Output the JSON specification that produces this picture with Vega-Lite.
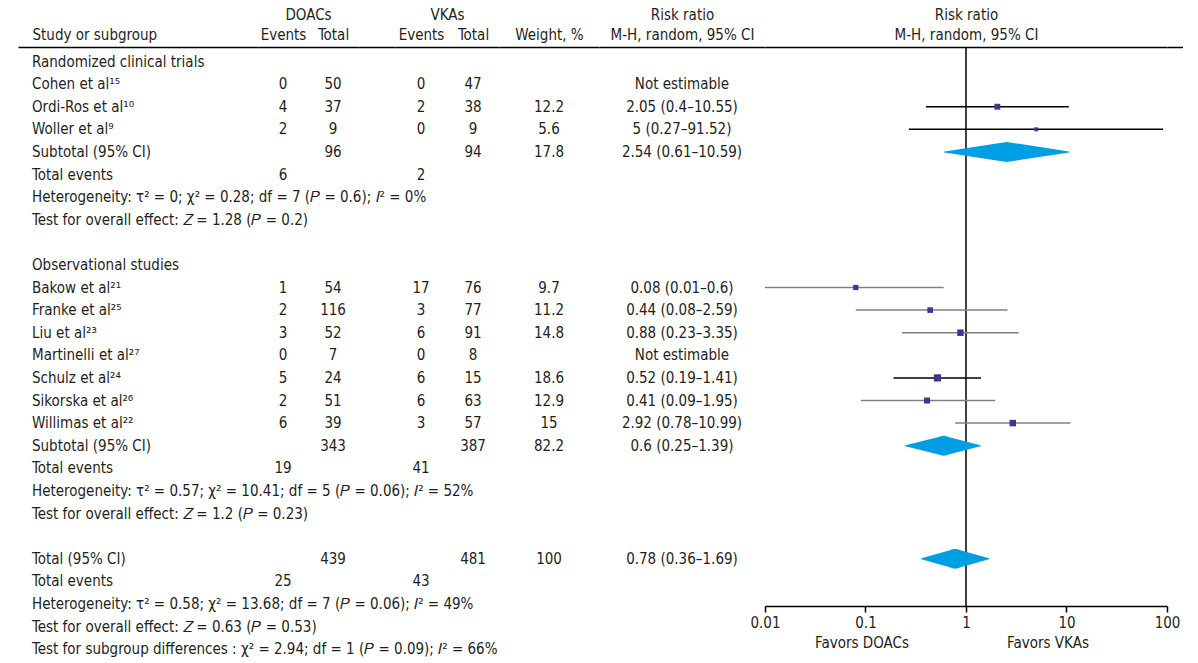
{
  "$schema": "https://vega.github.io/schema/vega-lite/v6.json",
  "padding": {"left": 18, "top": 7, "right": 0, "bottom": 0},
  "bounds": "flush",
  "spacing": 0,
  "config": {
    "font": "Liberation Sans Narrow, DejaVu Sans Condensed, Liberation Sans, sans-serif",
    "view": {"stroke": null},
    "text": {"fontSize": 15, "color": "#231f20"},
    "axis": {
      "domainColor": "#000000",
      "domainWidth": 1.5,
      "ticks": false,
      "grid": false,
      "labelAngle": 0,
      "labelFontSize": 15,
      "labelColor": "#231f20",
      "labelPadding": 5,
      "titleFontSize": 15,
      "titleFontWeight": "normal",
      "titleColor": "#231f20",
      "titlePadding": 5
    }
  },
  "datasets": {
    "rows": [
      {"r": 1, "label": "Randomized clinical trials", "kind": "group", "grp": "rct"},
      {"r": 2, "label": "Cohen et al¹⁵", "e1": 0, "t1": 50, "e2": 0, "t2": 47, "rr": "Not estimable", "kind": "study", "grp": "rct"},
      {"r": 3, "label": "Ordi-Ros et al¹⁰", "e1": 4, "t1": 37, "e2": 2, "t2": 38, "w": 12.2, "rr": "2.05 (0.4–10.55)", "est": 2.05, "lo": 0.4, "hi": 10.55, "kind": "study", "grp": "rct"},
      {"r": 4, "label": "Woller et al⁹", "e1": 2, "t1": 9, "e2": 0, "t2": 9, "w": 5.6, "rr": "5 (0.27–91.52)", "est": 5, "lo": 0.27, "hi": 91.52, "kind": "study", "grp": "rct"},
      {"r": 5, "label": "Subtotal (95% CI)", "t1": 96, "t2": 94, "w": 17.8, "rr": "2.54 (0.61–10.59)", "est": 2.54, "lo": 0.61, "hi": 10.59, "kind": "sub", "grp": "rct"},
      {"r": 6, "label": "Total events", "e1": 6, "e2": 2, "kind": "events", "grp": "rct"},
      {"r": 7, "label": "Heterogeneity: τ² = 0; χ² = 0.28; df = 7 (𝑃 = 0.6); 𝐼² = 0%", "kind": "note", "grp": "rct"},
      {"r": 8, "label": "Test for overall effect: 𝑍 = 1.28 (𝑃 = 0.2)", "kind": "note", "grp": "rct"},
      {"r": 10, "label": "Observational studies", "kind": "group", "grp": "obs"},
      {"r": 11, "label": "Bakow et al²¹", "e1": 1, "t1": 54, "e2": 17, "t2": 76, "w": 9.7, "rr": "0.08 (0.01–0.6)", "est": 0.08, "lo": 0.01, "hi": 0.6, "kind": "study", "grp": "obs"},
      {"r": 12, "label": "Franke et al²⁵", "e1": 2, "t1": 116, "e2": 3, "t2": 77, "w": 11.2, "rr": "0.44 (0.08–2.59)", "est": 0.44, "lo": 0.08, "hi": 2.59, "kind": "study", "grp": "obs"},
      {"r": 13, "label": "Liu et al²³", "e1": 3, "t1": 52, "e2": 6, "t2": 91, "w": 14.8, "rr": "0.88 (0.23–3.35)", "est": 0.88, "lo": 0.23, "hi": 3.35, "kind": "study", "grp": "obs"},
      {"r": 14, "label": "Martinelli et al²⁷", "e1": 0, "t1": 7, "e2": 0, "t2": 8, "rr": "Not estimable", "kind": "study", "grp": "obs"},
      {"r": 15, "label": "Schulz et al²⁴", "e1": 5, "t1": 24, "e2": 6, "t2": 15, "w": 18.6, "rr": "0.52 (0.19–1.41)", "est": 0.52, "lo": 0.19, "hi": 1.41, "kind": "study", "grp": "obs"},
      {"r": 16, "label": "Sikorska et al²⁶", "e1": 2, "t1": 51, "e2": 6, "t2": 63, "w": 12.9, "rr": "0.41 (0.09–1.95)", "est": 0.41, "lo": 0.09, "hi": 1.95, "kind": "study", "grp": "obs"},
      {"r": 17, "label": "Willimas et al²²", "e1": 6, "t1": 39, "e2": 3, "t2": 57, "w": 15, "rr": "2.92 (0.78–10.99)", "est": 2.92, "lo": 0.78, "hi": 10.99, "kind": "study", "grp": "obs"},
      {"r": 18, "label": "Subtotal (95% CI)", "t1": 343, "t2": 387, "w": 82.2, "rr": "0.6 (0.25–1.39)", "est": 0.6, "lo": 0.25, "hi": 1.39, "kind": "sub", "grp": "obs"},
      {"r": 19, "label": "Total events", "e1": 19, "e2": 41, "kind": "events", "grp": "obs"},
      {"r": 20, "label": "Heterogeneity: τ² = 0.57; χ² = 10.41; df = 5 (𝑃 = 0.06); 𝐼² = 52%", "kind": "note", "grp": "obs"},
      {"r": 21, "label": "Test for overall effect: 𝑍 = 1.2 (𝑃 = 0.23)", "kind": "note", "grp": "obs"},
      {"r": 23, "label": "Total (95% CI)", "t1": 439, "t2": 481, "w": 100, "rr": "0.78 (0.36–1.69)", "est": 0.78, "lo": 0.36, "hi": 1.69, "kind": "total", "grp": "all"},
      {"r": 24, "label": "Total events", "e1": 25, "e2": 43, "kind": "events", "grp": "all"},
      {"r": 25, "label": "Heterogeneity: τ² = 0.58; χ² = 13.68; df = 7 (𝑃 = 0.06); 𝐼² = 49%", "kind": "note", "grp": "all"},
      {"r": 26, "label": "Test for overall effect: 𝑍 = 0.63 (𝑃 = 0.53)", "kind": "note", "grp": "all"},
      {"r": 27, "label": "Test for subgroup differences : χ² = 2.94; df = 1 (𝑃 = 0.09); 𝐼² = 66%", "kind": "note", "grp": "all"}
    ]
  },
  "data": {"name": "rows"},
  "hconcat": [
    {
      "width": 240,
      "height": 616,
      "transform": [{"filter": "datum.label != null"}],
      "mark": {"type": "text", "align": "left", "dx": 14},
      "encoding": {
        "x": {
          "datum": "Study or subgroup",
          "type": "nominal",
          "scale": {"type": "point", "padding": 0, "align": 0},
          "axis": {"orient": "top", "title": null, "labelAlign": "left", "labelOffset": 14}
        },
        "y": {"field": "r", "type": "quantitative", "scale": {"domain": [0.358, 27.614], "reverse": true, "nice": false, "zero": false}, "axis": null},
        "text": {"field": "label", "type": "nominal"}
      }
    },
    {
      "width": 100,
      "height": 616,
      "transform": [{"fold": ["e1", "t1"], "as": ["col", "val"]}, {"filter": "datum.val != null"}],
      "mark": {"type": "text"},
      "encoding": {
        "x": {
          "field": "col",
          "type": "nominal",
          "scale": {"domain": ["e1", "t1"], "paddingInner": 0, "paddingOuter": 0},
          "axis": {"orient": "top", "title": "DOACs", "labelExpr": "datum.value == 'e1' ? 'Events' : 'Total'"}
        },
        "y": {"field": "r", "type": "quantitative", "scale": {"domain": [0.358, 27.614], "reverse": true, "nice": false, "zero": false}, "axis": null},
        "text": {"field": "val", "type": "nominal"}
      }
    },
    {
      "width": 37,
      "height": 616,
      "mark": {"type": "text", "text": ""},
      "encoding": {
        "x": {"datum": "gap", "type": "nominal", "axis": {"orient": "top", "labels": false, "title": null}}
      }
    },
    {
      "width": 104,
      "height": 616,
      "transform": [{"fold": ["e2", "t2"], "as": ["col", "val"]}, {"filter": "datum.val != null"}],
      "mark": {"type": "text"},
      "encoding": {
        "x": {
          "field": "col",
          "type": "nominal",
          "scale": {"domain": ["e2", "t2"], "paddingInner": 0, "paddingOuter": 0},
          "axis": {"orient": "top", "title": "VKAs", "labelExpr": "datum.value == 'e2' ? 'Events' : 'Total'"}
        },
        "y": {"field": "r", "type": "quantitative", "scale": {"domain": [0.358, 27.614], "reverse": true, "nice": false, "zero": false}, "axis": null},
        "text": {"field": "val", "type": "nominal"}
      }
    },
    {
      "width": 100,
      "height": 616,
      "transform": [{"filter": "datum.w != null"}],
      "mark": {"type": "text"},
      "encoding": {
        "x": {"datum": "Weight, %", "type": "nominal", "scale": {"paddingInner": 0, "paddingOuter": 0}, "axis": {"orient": "top", "title": null}},
        "y": {"field": "r", "type": "quantitative", "scale": {"domain": [0.358, 27.614], "reverse": true, "nice": false, "zero": false}, "axis": null},
        "text": {"field": "w", "type": "quantitative"}
      }
    },
    {
      "width": 166,
      "height": 616,
      "transform": [{"filter": "datum.rr != null"}],
      "mark": {"type": "text"},
      "encoding": {
        "x": {"datum": "M-H, random, 95% CI", "type": "nominal", "scale": {"paddingInner": 0, "paddingOuter": 0}, "axis": {"orient": "top", "title": "Risk ratio"}},
        "y": {"field": "r", "type": "quantitative", "scale": {"domain": [0.358, 27.614], "reverse": true, "nice": false, "zero": false}, "axis": null},
        "text": {"field": "rr", "type": "nominal"}
      }
    },
    {
      "width": 402,
      "height": 559,
      "resolve": {"axis": {"x": "independent"}},
      "layer": [
        {
          "data": {"values": [{}]},
          "mark": {"type": "rule", "color": "#000000", "strokeWidth": 1.5},
          "encoding": {
            "x": {
              "datum": 1,
              "type": "quantitative",
              "scale": {"type": "log", "domain": [0.01, 100], "nice": false},
              "axis": {"orient": "top", "values": [1], "labelExpr": "'M-H, random, 95% CI'", "labelFlush": false, "title": "Risk ratio"}
            }
          }
        },
        {
          "transform": [{"filter": "datum.kind == 'study' && datum.lo != null"}],
          "mark": {"type": "rule", "strokeWidth": 1.5},
          "encoding": {
            "x": {
              "field": "lo",
              "type": "quantitative",
              "scale": {"type": "log", "domain": [0.01, 100], "nice": false},
              "axis": {"orient": "bottom", "values": [0.01, 0.1, 1, 10, 100], "format": "~g", "ticks": true, "tickSize": 6, "tickWidth": 1.5, "tickColor": "#000000", "labelPadding": 3, "labelFlush": false, "labelOverlap": false, "title": null}
            },
            "x2": {"field": "hi"},
            "y": {"field": "r", "type": "quantitative", "scale": {"domain": [0.358, 25.093], "reverse": true, "nice": false, "zero": false}, "axis": null},
            "color": {"condition": {"test": "datum.grp == 'rct' || indexof(datum.label, 'Schulz') == 0", "value": "#000000"}, "value": "#808080"}
          }
        },
        {
          "transform": [{"filter": "datum.kind == 'study' && datum.est != null"}],
          "mark": {"type": "point", "shape": "square", "filled": true, "opacity": 1, "color": "#39388f"},
          "encoding": {
            "x": {
              "field": "est",
              "type": "quantitative",
              "scale": {"type": "log", "domain": [0.01, 100], "nice": false},
              "axis": {"orient": "bottom", "values": [0.1, 10], "labelExpr": "datum.value < 1 ? 'Favors DOACs' : 'Favors VKAs'", "domain": false, "ticks": false, "offset": 29, "labelPadding": 0, "labelFlush": false, "labelOffset": {"condition": {"test": "datum.value > 1", "value": -19}, "value": -4}, "title": null}
            },
            "y": {"field": "r", "type": "quantitative", "scale": {"domain": [0.358, 25.093], "reverse": true, "nice": false, "zero": false}, "axis": null},
            "size": {"field": "w", "type": "quantitative", "scale": {"domain": [0, 20], "range": [0, 56], "zero": true}, "legend": null}
          }
        },
        {
          "transform": [
            {"filter": "datum.kind == 'sub' || datum.kind == 'total'"},
            {"fold": ["lo", "est", "hi"], "as": ["pt", "v"]}
          ],
          "mark": {"type": "trail", "color": "#009fe3"},
          "encoding": {
            "x": {"field": "v", "type": "quantitative", "scale": {"type": "log", "domain": [0.01, 100], "nice": false}, "axis": null},
            "y": {"field": "r", "type": "quantitative", "scale": {"domain": [0.358, 25.093], "reverse": true, "nice": false, "zero": false}, "axis": null},
            "detail": {"field": "r", "type": "nominal"},
            "size": {"condition": {"test": "datum.pt == 'est'", "value": 20}, "value": 0}
          }
        }
      ]
    },
    {
      "width": 16,
      "height": 616,
      "mark": {"type": "text", "text": ""},
      "encoding": {
        "x": {"datum": "end", "type": "nominal", "axis": {"orient": "top", "labels": false, "title": null}}
      }
    }
  ]
}
